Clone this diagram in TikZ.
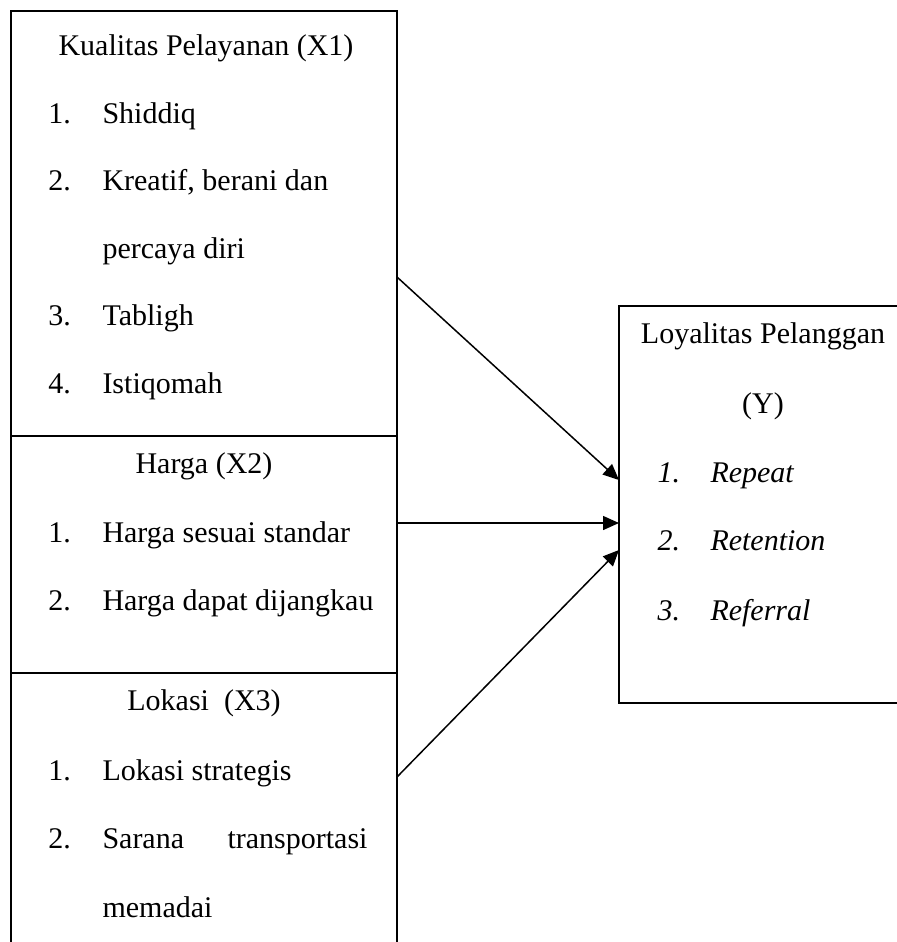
\documentclass[tikz,border=0pt]{standalone}
\usepackage{fontspec}
\setmainfont{Liberation Serif}
\usetikzlibrary{arrows.meta}
\begin{document}
\begin{tikzpicture}[x=0.4pt,y=-0.4pt,
  frame/.style={line width=0.8pt},
  conn/.style={line width=0.6pt,-{Triangle[length=6.4pt,width=5.6pt]}},
  txt/.style={anchor=base west,inner sep=0pt,font=\fontsize{12}{14}\selectfont},
  ctr/.style={anchor=base,inner sep=0pt,font=\fontsize{12}{14}\selectfont}]
\useasboundingbox (0,0) rectangle (897,942);
% frames
\draw[frame] (11,942) -- (11,11) -- (397,11) -- (397,942);
\draw[frame] (11,436) -- (397,436);
\draw[frame] (11,673) -- (397,673);
\draw[frame] (897,306) -- (619,306) -- (619,703) -- (897,703);
% X1
\node[ctr] (t1) at (206,55) {Kualitas Pelayanan (X1)};
\node[txt] (n11) at (48,123) {1.};
\node[txt] (i11) at (102,123) {Shiddiq};
\node[txt] (n12) at (48,190) {2.};
\node[txt] (i12) at (102,190) {Kreatif, berani dan};
\node[txt] (i12b) at (102,258) {percaya diri};
\node[txt] (n13) at (48,325) {3.};
\node[txt] (i13) at (102,325) {Tabligh};
\node[txt] (n14) at (48,393) {4.};
\node[txt] (i14) at (102,393) {Istiqomah};
% X2
\node[ctr] (t2) at (204,473) {Harga (X2)};
\node[txt] (n21) at (48,542) {1.};
\node[txt] (i21) at (102,542) {Harga sesuai standar};
\node[txt] (n22) at (48,610) {2.};
\node[txt] (i22) at (102,610) {Harga dapat dijangkau};
% X3
\node[ctr] (t3) at (204,710) {Lokasi\ \ (X3)};
\node[txt] (n31) at (48,780) {1.};
\node[txt] (i31) at (102,780) {Lokasi strategis};
\node[txt] (n32) at (48,848) {2.};
\node[txt] (i32) at (102,848) {Sarana};
\node[anchor=base east,inner sep=0pt,font=\fontsize{12}{14}\selectfont] (i32b) at (368,848) {transportasi};
\node[txt] (i32c) at (102,917) {memadai};
% Y
\node[ctr] (ty) at (763,343) {Loyalitas Pelanggan};
\node[ctr] (ty2) at (763,413) {(Y)};
\node[txt] (ny1) at (657,482) {\itshape 1.};
\node[txt] (iy1) at (710,482) {\itshape Repeat};
\node[txt] (ny2) at (657,550) {\itshape 2.};
\node[txt] (iy2) at (710,550) {\itshape Retention};
\node[txt] (ny3) at (657,620) {\itshape 3.};
\node[txt] (iy3) at (710,620) {\itshape Referral};
% connectors
\coordinate (s1) at (397,277);
\coordinate (e1) at (619,480);
\coordinate (s2) at (397,523);
\coordinate (e2) at (619,523);
\coordinate (s3) at (397,777);
\coordinate (e3) at (619,550);
\draw[conn] (s1) -- (e1);
\draw[conn] (s2) -- (e2);
\draw[conn] (s3) -- (e3);
\end{tikzpicture}
\end{document}
